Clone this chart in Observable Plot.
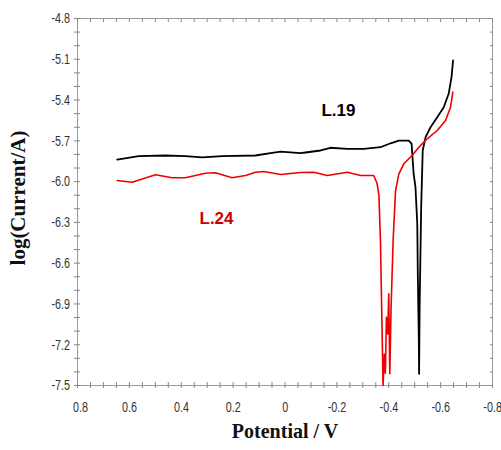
<!DOCTYPE html>
<html><head><meta charset="utf-8">
<script src="https://cdn.jsdelivr.net/npm/d3@7"></script>
<script src="https://cdn.jsdelivr.net/npm/@observablehq/plot@0.6"></script>
<style>body{margin:0;background:#fff} svg{display:block}</style>
</head><body><div id="chart"></div>
<script>
// L.19 (black) – potential (V) and log(current/A), in drawing order
const l19X = [0.647,0.564,0.461,0.384,0.319,0.242,0.114,0.056,0.017,-0.060,-0.086,-0.137,-0.175,-0.240,-0.304,-0.368,-0.407,-0.439,-0.477,-0.488,-0.496,-0.503,-0.510,-0.512,-0.516,-0.517,-0.519,-0.525,-0.531,-0.542,-0.561,-0.587,-0.612,-0.631,-0.642,-0.648];
const l19Y = [-5.838,-5.813,-5.808,-5.813,-5.821,-5.813,-5.808,-5.791,-5.779,-5.791,-5.784,-5.771,-5.751,-5.759,-5.759,-5.747,-5.718,-5.698,-5.698,-5.72,-5.943,-6.041,-6.311,-6.679,-7.169,-7.414,-6.924,-6.188,-5.771,-5.673,-5.600,-5.526,-5.453,-5.354,-5.232,-5.109];
// L.24 (red)
const l24X = [0.647,0.589,0.551,0.499,0.435,0.384,0.307,0.268,0.204,0.152,0.114,0.082,0.017,-0.060,-0.111,-0.163,-0.240,-0.291,-0.342,-0.355,-0.362,-0.368,-0.375,-0.378,-0.383,-0.387,-0.391,-0.396,-0.400,-0.404,-0.409,-0.417,-0.426,-0.439,-0.458,-0.490,-0.516,-0.548,-0.587,-0.619,-0.638,-0.647];
const l24Y = [-5.992,-6.005,-5.980,-5.950,-5.972,-5.972,-5.938,-5.935,-5.972,-5.955,-5.931,-5.926,-5.948,-5.933,-5.931,-5.955,-5.931,-5.955,-5.955,-6.014,-6.10,-6.434,-7.169,-7.50,-7.27,-7.41,-6.998,-7.12,-6.826,-7.414,-6.924,-6.43,-6.07,-5.943,-5.869,-5.808,-5.747,-5.685,-5.624,-5.551,-5.453,-5.342];
// tick labels
const xTicks = [0.8,0.6,0.4,0.2,0,-0.2,-0.4,-0.6,-0.8];
const yTicks = [-4.8,-5.1,-5.4,-5.7,-6.0,-6.3,-6.6,-6.9,-7.2,-7.5];
// series labels
const seriesNames = ["L.19","L.24"];
const seriesColors = ["#000000","#ee0000"];
const labelColors = ["#000000","#cc0000"];
const labelX = [-0.206, 0.264];
const labelY = [-5.477, -6.272];

const l19 = l19X.map((x,i)=>({x, y:l19Y[i]}));
const l24 = l24X.map((x,i)=>({x, y:l24Y[i]}));
const labels = seriesNames.map((name,i)=>({name, x:labelX[i], y:labelY[i], color:labelColors[i]}));

const xMinor = d3.range(-16,17).map(k=>k*0.05);
const yMinor = d3.range(-75,-47).map(k=>k/10);
const fmtX = d => d === 0 ? "0" : String(+d.toFixed(1));
const fmtY = d => d.toFixed(1);
const tickCol = "#888";
const blank = () => "";

const chart = Plot.plot({
  width: 501, height: 450,
  marginLeft: 77, marginRight: 9, marginTop: 18, marginBottom: 65,
  x: {domain: [0.8, -0.8]},
  y: {domain: [-7.5, -4.8]},
  style: {fontFamily: "'Liberation Sans',Arial,sans-serif", fontSize: "15px", color: "#333", background: "#fff"},
  marks: [
    Plot.frame({stroke: "#999"}),
    Plot.axisX({ticks: xMinor, tickSize: 3, tickFormat: blank, label: null, stroke: tickCol}),
    Plot.axisX({ticks: xMinor, tickSize: -3, tickFormat: blank, label: null, stroke: tickCol}),
    Plot.axisX({ticks: xMinor, anchor: "top", tickSize: -3, tickFormat: blank, label: null, stroke: tickCol}),
    Plot.axisX({ticks: xTicks, tickSize: 0, tickPadding: 16, tickFormat: fmtX, label: null, fontSize: 15}),
    Plot.axisY({ticks: yMinor, tickSize: 3, tickFormat: blank, label: null, stroke: tickCol}),
    Plot.axisY({ticks: yMinor, tickSize: -3, tickFormat: blank, label: null, stroke: tickCol}),
    Plot.axisY({ticks: yMinor, anchor: "right", tickSize: -3, tickFormat: blank, label: null, stroke: tickCol}),
    Plot.axisY({ticks: yTicks, tickSize: 0, tickPadding: 6, tickFormat: fmtY, label: null, fontSize: 15}),
    Plot.line(l19, {x: "x", y: "y", stroke: seriesColors[0], strokeWidth: 1.8}),
    Plot.line(l24, {x: "x", y: "y", stroke: seriesColors[1], strokeWidth: 1.6}),
    Plot.text(labels, {x: "x", y: "y", text: "name", fill: "color", fontSize: 17, fontWeight: "bold", fontFamily: "'Liberation Sans',Arial,sans-serif"}),
    Plot.text(["Potential / V"], {frameAnchor: "bottom", dy: 52, text: d => d, fontSize: 20, fontWeight: "bold", fontFamily: "'Liberation Serif','Times New Roman',serif", fill: "#111"}),
    Plot.text(["log(Current/A)"], {frameAnchor: "left", dx: -59, dy: -4, rotate: -90, textAnchor: "middle", lineAnchor: "middle", text: d => d, fontSize: 21, fontWeight: "bold", fontFamily: "'Liberation Serif','Times New Roman',serif", fill: "#111"})
  ]
});
document.getElementById("chart").appendChild(chart);

// condense tick labels horizontally (reference uses a narrow face)
const svg = chart.tagName.toLowerCase() === "svg" ? chart : chart.querySelector("svg");
const svgRect = svg.getBoundingClientRect();
svg.querySelectorAll("text").forEach(t => {
  if (!/^-?\d/.test(t.textContent)) return;
  const r = t.getBoundingClientRect();
  const isY = r.left - svgRect.left < 77;
  const cx = (isY ? r.right : r.left + r.width / 2) - svgRect.left;
  const g = document.createElementNS("http://www.w3.org/2000/svg", "g");
  g.setAttribute("transform", `translate(${cx},0) scale(0.72,1) translate(${-cx},0)`);
  t.parentNode.insertBefore(g, t);
  g.appendChild(t);
});
</script>
</body></html>
